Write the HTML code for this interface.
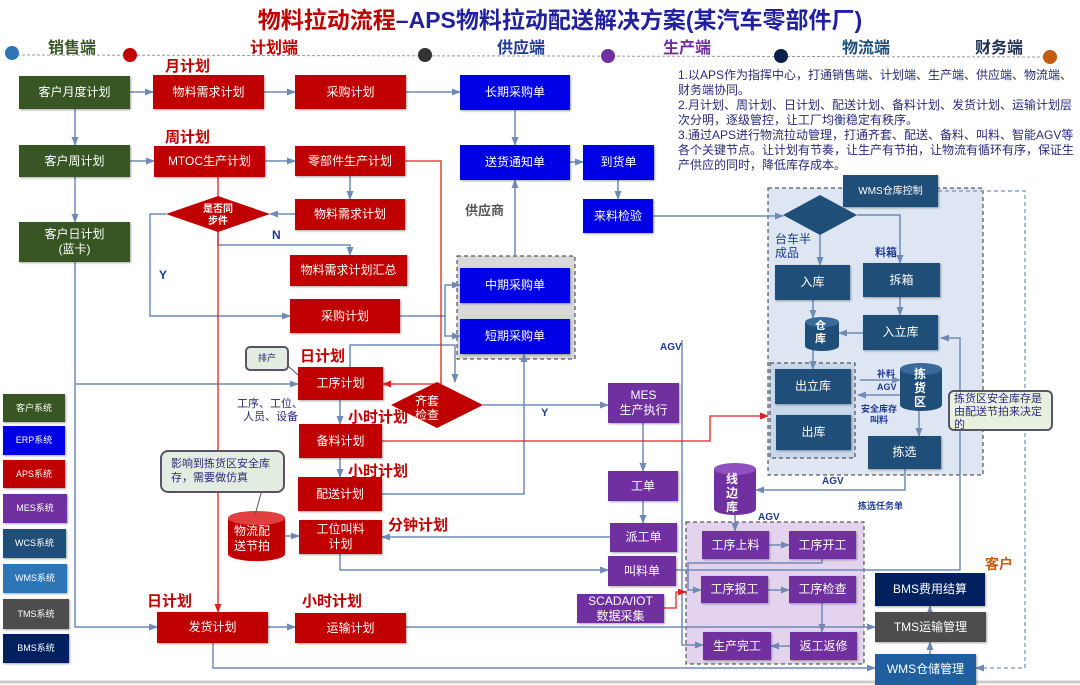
<!DOCTYPE html>
<html><head><meta charset="utf-8"><style>
body{margin:0;width:1080px;height:685px;overflow:hidden;background:#fff;position:relative;font-family:"Liberation Sans","Noto Sans CJK SC",sans-serif}
.b{position:absolute;color:#fff;font-size:12px;display:flex;align-items:center;justify-content:center;text-align:center;line-height:15px;box-shadow:1px 1px 2px rgba(0,0,0,.35)}
.g{background:#375623}.r{background:#c00000}.u{background:#0000e6}.p{background:#7030a0}.w{background:#1f4e79}.n{background:#002060}.t{background:#4d4d4d}
.l{position:absolute;font-weight:bold;white-space:nowrap}
.rl{color:#c00000;font-size:15px}
.h{position:absolute;font-size:16px;font-weight:bold;top:34px}
</style></head><body>
<div class="l" style="left:0;width:1120px;text-align:center;top:1px;font-size:23px;color:#c00000">物料拉动流程<span style="color:#2020a0">–APS物料拉动配送解决方案(某汽车零部件厂)</span></div>
<div class="h" style="left:48px;color:#375623">销售端</div>
<div class="h" style="left:250px;color:#c00000">计划端</div>
<div class="h" style="left:497px;color:#1f3a93">供应端</div>
<div class="h" style="left:663px;color:#7030a0">生产端</div>
<div class="h" style="left:842px;color:#1f4e79">物流端</div>
<div class="h" style="left:975px;color:#1f3050">财务端</div>
<svg style="position:absolute;left:0;top:0" width="1080" height="685">
<defs><marker id="a" markerUnits="userSpaceOnUse" markerWidth="9" markerHeight="9" refX="8" refY="4.5" orient="auto"><path d="M0,1L9,4.5L0,8z" fill="#6f8bb5"/></marker>
<marker id="ar" markerUnits="userSpaceOnUse" markerWidth="9" markerHeight="9" refX="8" refY="4.5" orient="auto"><path d="M0,1L9,4.5L0,8z" fill="#e02020"/></marker></defs>
<line x1="12" y1="55" x2="1050" y2="57" stroke="#999" stroke-dasharray="3,2"/>
<circle cx="12" cy="53" r="7" fill="#2e75b6"/><circle cx="130" cy="55" r="7" fill="#c00000"/><circle cx="425" cy="55" r="7" fill="#333"/><circle cx="608" cy="56" r="7" fill="#7030a0"/><circle cx="781" cy="56" r="7" fill="#0b1f4a"/><circle cx="1050" cy="57" r="7" fill="#c55a11"/>
<rect x="768" y="188" width="215" height="287" fill="#dde6f2" stroke="#333" stroke-dasharray="4,3"/>
<rect x="770" y="363" width="85" height="95" fill="#c9d7ea" stroke="#333" stroke-dasharray="4,3"/>
<rect x="457" y="256" width="118" height="103" fill="#d9d9d9" stroke="#333" stroke-dasharray="4,3"/>
<rect x="686" y="522" width="178" height="142" fill="#e4d3ee" stroke="#333" stroke-dasharray="4,3"/>
<g fill="none" stroke="#6f8bb5" stroke-width="1.5" marker-end="url(#a)">
<path d="M130,92H153"/><path d="M264,92H295"/><path d="M406,92H460"/><path d="M75,109V145"/><path d="M75,177V222"/><path d="M130,161H154"/><path d="M265,161H295"/><path d="M350,176V199"/><path d="M295,214H270"/><path d="M166,214H150V316H290"/><path d="M218,232V245H350V255"/><path d="M400,316H445V285H460"/><path d="M445,316V336H460"/><path d="M515,110V145"/><path d="M515,256V180"/><path d="M570,162H583"/><path d="M618,180V199"/><path d="M653,216H783"/><path d="M75,262V627H157"/><path d="M75,384H298"/><path d="M350,367V345H455V382"/><path d="M340,400V424"/><path d="M340,458V477"/><path d="M483,405H608"/><path d="M382,494H524V354"/><path d="M285,536H299"/><path d="M610,537H382"/><path d="M340,554V570H608"/><path d="M643,423V471"/><path d="M643,501V523"/><path d="M676,570H960V338H941"/><path d="M268,627H295"/><path d="M406,627H875"/><path d="M213,643V668H875"/><path d="M930,612V606"/><path d="M930,654V642"/><path d="M905,469V490H756"/><path d="M735,515V531"/><path d="M769,545H789"/><path d="M768,590H789"/><path d="M822,603V632"/><path d="M790,646H771"/><path d="M822,559V563H688V590H701"/><path d="M682,340V645H703"/><path d="M820,235V265"/><path d="M857,215H900V263"/><path d="M813,300V318"/><path d="M863,333H839"/><path d="M813,350V369"/><path d="M900,297V315"/><path d="M860,380H900"/><path d="M900,395H858"/><path d="M919,410V436"/>
</g>
<g fill="none" stroke="#e02020" stroke-width="1.3" marker-end="url(#ar)">
<path d="M218,177V612"/><path d="M405,161H441V384H383"/><path d="M382,441H710V416H768"/><path d="M664,608H676V592H686"/>
</g>
<path d="M938,191H1025V668H976" fill="none" stroke="#8fa3c0" stroke-dasharray="4,3" stroke-width="1.5" marker-end="url(#a)"/>
<polygon points="166,214 218,196 270,214 218,232" fill="#c00000"/>
<polygon points="391,405 437,382 483,405 437,428" fill="#c00000"/>
<polygon points="783,215 820,195 857,215 820,235" fill="#1f4e79"/>
<g>
<path d="M228,518v36a28,7 0 0 0 57,0v-36" fill="#c00000"/><ellipse cx="256.5" cy="518" rx="28.5" ry="7" fill="#e04040"/>
<path d="M805,322v24a17,5 0 0 0 34,0v-24" fill="#1f4e79"/><ellipse cx="822" cy="322" rx="17" ry="5" fill="#3a6a9a"/>
<path d="M900,369v36a21,6 0 0 0 42,0v-36" fill="#1f4e79"/><ellipse cx="921" cy="369" rx="21" ry="6" fill="#3a6a9a"/>
<path d="M714,469v40a21,6 0 0 0 42,0v-40" fill="#7030a0"/><ellipse cx="735" cy="469" rx="21" ry="6" fill="#9050c0"/>
</g>
<path d="M255,515L262,490" stroke="#555" fill="none"/>
<path d="M287,365L298,375" stroke="#555" fill="none"/>
<line x1="0" y1="682" x2="1080" y2="682" stroke="#ccc" stroke-width="3"/>
</svg>
<div class="l rl" style="left:165px;top:55px">月计划</div>
<div class="l rl" style="left:165px;top:126px">周计划</div>
<div class="b g" style="left:19px;top:76px;width:111px;height:33px">客户月度计划</div>
<div class="b g" style="left:19px;top:145px;width:111px;height:32px">客户周计划</div>
<div class="b g" style="left:19px;top:222px;width:111px;height:40px">客户日计划<br>(蓝卡)</div>
<div class="b r" style="left:153px;top:75px;width:111px;height:34px">物料需求计划</div>
<div class="b r" style="left:295px;top:75px;width:111px;height:34px">采购计划</div>
<div class="b r" style="left:154px;top:146px;width:111px;height:31px">MTOC生产计划</div>
<div class="b r" style="left:295px;top:146px;width:110px;height:30px">零部件生产计划</div>
<div class="l" style="left:203px;top:204px;color:#fff;font-size:10px;text-align:center;line-height:12px">是否同<br>步件</div>
<div class="b r" style="left:295px;top:199px;width:110px;height:31px">物料需求计划</div>
<div class="l" style="left:272px;top:228px;color:#1f3a93;font-size:12px">N</div>
<div class="l" style="left:159px;top:268px;color:#1f3a93;font-size:12px">Y</div>
<div class="b r" style="left:290px;top:255px;width:117px;height:31px">物料需求计划汇总</div>
<div class="b r" style="left:290px;top:299px;width:110px;height:34px">采购计划</div>
<div class="b u" style="left:460px;top:75px;width:110px;height:35px">长期采购单</div>
<div class="b u" style="left:460px;top:145px;width:110px;height:35px">送货通知单</div>
<div class="b u" style="left:583px;top:145px;width:71px;height:35px">到货单</div>
<div class="b u" style="left:583px;top:199px;width:70px;height:34px">来料检验</div>
<div class="l" style="left:465px;top:200px;color:#555;font-size:13px">供应商</div>
<div class="b u" style="left:460px;top:268px;width:110px;height:35px">中期采购单</div>
<div class="b u" style="left:460px;top:319px;width:110px;height:35px">短期采购单</div>
<div style="position:absolute;left:678px;top:68px;width:400px;font-size:12px;line-height:15px;color:#2a2a7a">1.以APS作为指挥中心，打通销售端、计划端、生产端、供应端、物流端、财务端协同。<br>2.月计划、周计划、日计划、配送计划、备料计划、发货计划、运输计划层次分明，逐级管控，让工厂均衡稳定有秩序。<br>3.通过APS进行物流拉动管理，打通齐套、配送、备料、叫料、智能AGV等各个关键节点。让计划有节奏，让生产有节拍，让物流有循环有序，保证生产供应的同时，降低库存成本。</div>
<div class="b w" style="left:843px;top:175px;width:95px;height:32px;font-size:10px">WMS仓库控制</div>
<div class="l" style="left:775px;top:232px;color:#1f3a93;font-size:12px;font-weight:normal;line-height:14px">台车半<br>成品</div>
<div class="l" style="left:875px;top:244px;color:#1f3a93;font-size:11px">料箱</div>
<div class="b w" style="left:775px;top:265px;width:75px;height:35px">入库</div>
<div class="b w" style="left:863px;top:263px;width:77px;height:34px">拆箱</div>
<div class="l" style="left:815px;top:320px;color:#fff;font-size:11px;line-height:13px">仓<br>库</div>
<div class="b w" style="left:863px;top:315px;width:75px;height:35px">入立库</div>
<div class="b w" style="left:775px;top:369px;width:76px;height:35px">出立库</div>
<div class="b w" style="left:776px;top:415px;width:75px;height:35px">出库</div>
<div class="l" style="left:877px;top:368px;color:#1f3a93;font-size:9px;line-height:13px">补料<br>AGV</div>
<div class="l" style="left:861px;top:404px;color:#1f3a93;font-size:9px;line-height:11px;text-align:center">安全库存<br>叫料</div>
<div class="l" style="left:914px;top:367px;color:#fff;font-size:12px;line-height:14px">拣<br>货<br>区</div>
<div class="b w" style="left:868px;top:436px;width:73px;height:33px">拣选</div>
<div style="position:absolute;left:948px;top:390px;width:105px;height:41px;background:#e8f1e0;border:2px solid #556;border-radius:6px;font-size:11px;line-height:13px;color:#2a2a7a;padding:1px 4px;box-sizing:border-box">拣货区安全库存是由配送节拍来决定的</div>
<div class="l" style="left:660px;top:342px;color:#1f3a93;font-size:10px">AGV</div>
<div class="l" style="left:822px;top:476px;color:#1f3a93;font-size:10px">AGV</div>
<div class="l" style="left:758px;top:512px;color:#1f3a93;font-size:10px">AGV</div>
<div class="l" style="left:858px;top:499px;color:#1f3a93;font-size:9px">拣选任务单</div>
<div class="l" style="left:726px;top:472px;color:#fff;font-size:12px;line-height:14px">线<br>边<br>库</div>
<div class="b p" style="left:608px;top:383px;width:71px;height:40px">MES<br>生产执行</div>
<div class="l" style="left:541px;top:407px;color:#1f3a93;font-size:11px">Y</div>
<div class="b p" style="left:608px;top:471px;width:70px;height:30px">工单</div>
<div class="b p" style="left:610px;top:523px;width:67px;height:29px">派工单</div>
<div class="b p" style="left:608px;top:556px;width:68px;height:30px">叫料单</div>
<div class="b p" style="left:577px;top:594px;width:87px;height:29px">SCADA/IOT<br>数据采集</div>
<div class="b p" style="left:702px;top:531px;width:67px;height:28px">工序上料</div>
<div class="b p" style="left:789px;top:531px;width:67px;height:28px">工序开工</div>
<div class="b p" style="left:701px;top:576px;width:67px;height:27px">工序报工</div>
<div class="b p" style="left:789px;top:576px;width:67px;height:27px">工序检查</div>
<div class="b p" style="left:703px;top:632px;width:68px;height:28px">生产完工</div>
<div class="b p" style="left:790px;top:632px;width:67px;height:28px">返工返修</div>
<div class="l" style="left:985px;top:554px;color:#c55a11;font-size:14px">客户</div>
<div class="b n" style="left:875px;top:573px;width:110px;height:33px">BMS费用结算</div>
<div class="b t" style="left:875px;top:612px;width:111px;height:30px">TMS运输管理</div>
<div class="b w" style="left:875px;top:654px;width:101px;height:31px;background:#1f5f9f">WMS仓储管理</div>
<div class="b g" style="left:3px;top:394px;width:62px;height:28px;font-size:9px">客户系统</div>
<div class="b u" style="left:3px;top:426px;width:62px;height:29px;font-size:9px">ERP系统</div>
<div class="b r" style="left:3px;top:460px;width:62px;height:28px;font-size:9px">APS系统</div>
<div class="b p" style="left:3px;top:494px;width:64px;height:29px;font-size:9px">MES系统</div>
<div class="b w" style="left:3px;top:529px;width:63px;height:29px;font-size:9px;background:#1f4e79">WCS系统</div>
<div class="b w" style="left:3px;top:564px;width:64px;height:29px;font-size:9px;background:#2e75b6">WMS系统</div>
<div class="b t" style="left:3px;top:599px;width:66px;height:30px;font-size:9px">TMS系统</div>
<div class="b n" style="left:3px;top:634px;width:66px;height:29px;font-size:9px">BMS系统</div>
<div style="position:absolute;left:245px;top:346px;width:40px;height:21px;background:#e2ece0;border:2px solid #556;border-radius:5px;font-size:9px;text-align:center;line-height:20px;color:#2a2a7a">排产</div>
<div class="l rl" style="left:300px;top:345px">日计划</div>
<div class="b r" style="left:298px;top:367px;width:85px;height:33px">工序计划</div>
<div style="position:absolute;left:415px;top:394px;color:#fff;font-size:12px;line-height:14px;text-align:center">齐套<br>检查</div>
<div style="position:absolute;left:237px;top:398px;font-size:11px;line-height:13px;color:#2a2a7a">工序、工位、<br>&nbsp;&nbsp;人员、设备</div>
<div class="l rl" style="left:348px;top:406px">小时计划</div>
<div class="b r" style="left:299px;top:424px;width:83px;height:34px">备料计划</div>
<div class="l rl" style="left:348px;top:460px">小时计划</div>
<div class="b r" style="left:298px;top:477px;width:84px;height:34px">配送计划</div>
<div style="position:absolute;left:160px;top:450px;width:125px;height:43px;background:#e2ece0;border:2px solid #556;border-radius:8px;font-size:11px;line-height:14px;color:#2a2a7a;padding:5px 9px;box-sizing:border-box">影响到拣货区安全库存，需要做仿真</div>
<div style="position:absolute;left:234px;top:524px;color:#fff;font-size:12px;line-height:15px;text-align:center">物流配<br>送节拍</div>
<div class="b r" style="left:299px;top:520px;width:83px;height:34px">工位叫料<br>计划</div>
<div class="l rl" style="left:388px;top:514px">分钟计划</div>
<div class="l rl" style="left:147px;top:590px">日计划</div>
<div class="b r" style="left:157px;top:612px;width:111px;height:31px">发货计划</div>
<div class="l rl" style="left:302px;top:590px">小时计划</div>
<div class="b r" style="left:295px;top:613px;width:111px;height:30px">运输计划</div>
</body></html>
